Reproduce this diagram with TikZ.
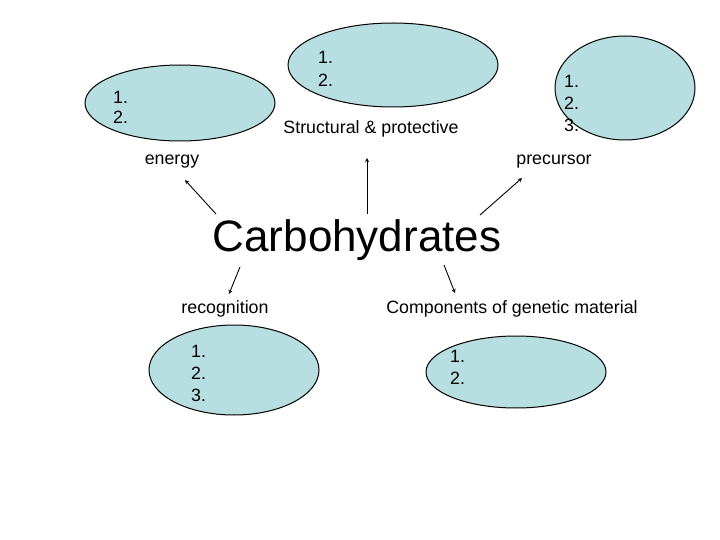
\documentclass[tikz,border=0pt]{standalone}
\usepackage{fontspec}
\setmainfont{Liberation Sans}
\usetikzlibrary{shapes.geometric}
\begin{document}
\begin{tikzpicture}[x=1pt,y=-1pt,
  lbl/.style={font=\fontsize{17.8}{20}\selectfont,inner sep=0pt},
  num/.style={font=\fontsize{17.8}{20}\selectfont,inner sep=0pt,anchor=west},
  arr/.style={->,>=stealth,line width=0.9pt}]
\useasboundingbox (0,0) rectangle (720,540);
\definecolor{bl}{RGB}{183,222,224}
\tikzset{blob/.style={draw=black,fill=bl,line width=1pt}}
\draw[blob] (180,103) ellipse (95 and 38);
\draw[blob] (393,65) ellipse (105 and 42);
\draw[blob] (625,88) ellipse (70 and 52);
\draw[blob] (234,370) ellipse (85 and 45);
\draw[blob] (516,372) ellipse (90 and 36);
\node[num] (a1) at (113,97) {1.};
\node[num] (a2) at (113,117) {2.};
\node[num] (b1) at (318,57) {1.};
\node[num] (b2) at (318,80) {2.};
\node[num] (c1) at (564,81) {1.};
\node[num] (c2) at (564,103) {2.};
\node[num] (c3) at (564,125) {3.};
\node[num] (d1) at (191,351) {1.};
\node[num] (d2) at (191,373) {2.};
\node[num] (d3) at (191,395) {3.};
\node[num] (e1) at (450,356) {1.};
\node[num] (e2) at (450,378) {2.};
\node[lbl] (energy) at (172,162) {energy};
\node[lbl] (struct) at (371,129) {Structural \& protective};
\node[lbl] (prec) at (554,162) {precursor};
\node[lbl] (recog) at (225,309) {recognition};
\node[lbl] (comp) at (512,309) {Components of genetic material};
\node[inner sep=0pt,font=\fontsize{44}{48}\selectfont] (carb) at (357,240) {Carbohydrates};
\coordinate (s1) at (216,214); \coordinate (t1) at (185,180);
\coordinate (s2) at (367,214); \coordinate (t2) at (367,158);
\coordinate (s3) at (480,215); \coordinate (t3) at (522,178);
\coordinate (s4) at (240,267); \coordinate (t4) at (229,294);
\coordinate (s5) at (444,265); \coordinate (t5) at (455,293);
\draw[arr] (s1) -- (t1);
\draw[arr] (s2) -- (t2);
\draw[arr] (s3) -- (t3);
\draw[arr] (s4) -- (t4);
\draw[arr] (s5) -- (t5);
\end{tikzpicture}
\end{document}
